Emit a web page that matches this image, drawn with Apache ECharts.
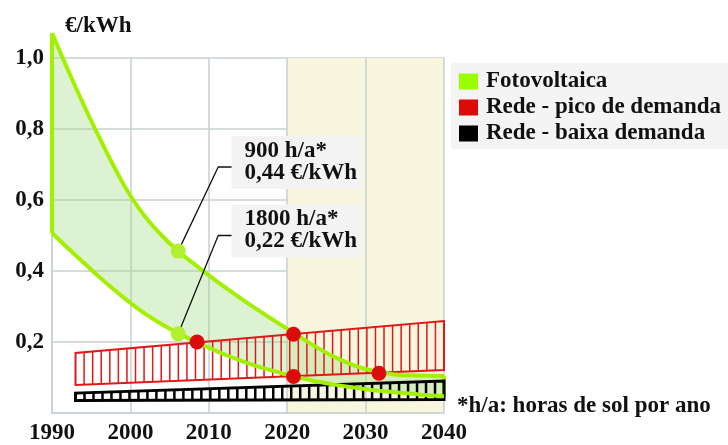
<!DOCTYPE html>
<html>
<head>
<meta charset="utf-8">
<script src="https://cdn.jsdelivr.net/npm/echarts@6/dist/echarts.min.js"></script>
<style>
  html, body { margin: 0; padding: 0; background: #fff; }
  #main { width: 728px; height: 445px; }
</style>
</head>
<body>
<div id="main"></div>
<script>
// custo da energia (€/kWh)
var years = [1990, 1992, 1994, 1996, 1998, 2000, 2002, 2004, 2006, 2008, 2010, 2012, 2014,
  2016, 2018, 2020, 2022, 2024, 2026, 2028, 2030, 2032, 2034, 2036, 2038, 2040];
// fotovoltaica 900 h/a (curva de cima)
var pv900 = [1.07, 0.968, 0.870, 0.778, 0.690, 0.612, 0.550, 0.500, 0.458, 0.422, 0.388, 0.355, 0.324,
  0.294, 0.265, 0.237, 0.209, 0.182, 0.158, 0.139, 0.124, 0.114, 0.108, 0.106, 0.105, 0.104];
// fotovoltaica 1800 h/a (curva de baixo)
var pv1800 = [0.507, 0.465, 0.424, 0.384, 0.346, 0.310, 0.278, 0.250, 0.226, 0.204, 0.184, 0.165, 0.148,
  0.133, 0.120, 0.108, 0.097, 0.088, 0.080, 0.073, 0.067, 0.062, 0.058, 0.054, 0.050, 0.047];

// faixas da rede (início e fim)
var bandYears = [1993, 2040];
var peakLow = [0.079, 0.121];
var peakHigh = [0.169, 0.259];
var offLow = [0.035, 0.038];
var offHigh = [0.056, 0.090];

// pontos marcados
var greenDots = [[2006.1, 0.456], [2006.1, 0.223]];
var redDots = [[2008.5, 0.2], [2020.8, 0.222], [2020.8, 0.103], [2031.7, 0.112]];
var leader900 = [[2006.1, 0.456], [2011.2, 0.693], [2012.9, 0.693]];
var leader1800 = [[2006.1, 0.223], [2011.2, 0.5], [2012.9, 0.5]];

var labels900 = ['900 h/a*', '0,44 €/kWh'];
var labels1800 = ['1800 h/a*', '0,22 €/kWh'];
var seriesNames = ['Fotovoltaica', 'Rede - pico de demanda', 'Rede - baixa demanda'];

var FONT = "'Liberation Serif', 'Times New Roman', serif";
var GREEN = '#a2f000';
var GRID = '#c9d1d1';

var chart = echarts.init(document.getElementById('main'));

function zip(xs, ys) {
  return xs.map(function (x, i) { return [x, ys[i]]; });
}

// faixa tracejada com linhas verticais
function hatchBand(color, width, step) {
  return function (params, api) {
    var a = api.coord([api.value(0), api.value(1)]);
    var b = api.coord([api.value(0), api.value(2)]);
    var c = api.coord([api.value(3), api.value(5)]);
    var d = api.coord([api.value(3), api.value(4)]);
    var children = [];
    var n = Math.round((d[0] - a[0]) / step);
    for (var i = 1; i < n; i++) {
      var t = i / n;
      children.push({
        type: 'line',
        shape: {
          x1: a[0] + t * (d[0] - a[0]), y1: a[1] + t * (d[1] - a[1]),
          x2: b[0] + t * (c[0] - b[0]), y2: b[1] + t * (c[1] - b[1])
        },
        style: { stroke: color, lineWidth: width }
      });
    }
    children.push({
      type: 'polygon',
      shape: { points: [a, b, c, d] },
      style: { fill: 'none', stroke: color, lineWidth: width + 0.5 }
    });
    return { type: 'group', children: children };
  };
}

// área entre as duas curvas: empilhada no eixo y (valor primeiro, ano depois)
var fillBase = pv1800.map(function (v, i) { return [v, years[i]]; });
var fillTop = pv900.map(function (v, i) { return [v - pv1800[i], years[i]]; });

var option = {
  animation: false,
  grid: { left: 52, right: 284, top: 58, bottom: 29 },
  legend: {
    orient: 'vertical',
    left: 451,
    top: 63,
    backgroundColor: '#f3f4f3',
    padding: [7, 10, 4, 8],
    itemWidth: 19,
    itemHeight: 16,
    itemGap: 3,
    selectedMode: false,
    textStyle: { fontFamily: FONT, fontWeight: 'bold', fontSize: 23, color: '#111', padding: [0, 0, 0, 3] },
    data: [
      { name: seriesNames[0], icon: 'rect', itemStyle: { color: '#99ff00' } },
      { name: seriesNames[1], icon: 'rect', itemStyle: { color: '#dd0a0a' } },
      { name: seriesNames[2], icon: 'rect', itemStyle: { color: '#000' } }
    ]
  },
  xAxis: {
    type: 'value',
    min: 1990,
    max: 2040,
    interval: 10,
    axisLine: { lineStyle: { color: GRID, width: 1.5 } },
    axisTick: { show: false },
    axisLabel: {
      color: '#111', fontFamily: FONT, fontWeight: 'bold', fontSize: 23, margin: 9,
      formatter: function (v) { return String(v); }
    },
    splitLine: { lineStyle: { color: GRID, width: 1.5 } },
    splitArea: {
      show: true,
      areaStyle: { color: ['rgba(255,255,255,0)', 'rgba(255,255,255,0)', 'rgba(255,255,255,0)', '#f8f6df', '#f8f6df'] }
    }
  },
  yAxis: {
    type: 'value',
    min: 0,
    max: 1,
    interval: 0.2,
    axisLine: { show: true, lineStyle: { color: GRID, width: 1.5 } },
    axisTick: { show: false },
    axisLabel: {
      color: '#111', fontFamily: FONT, fontWeight: 'bold', fontSize: 23, margin: 8,
      formatter: function (v) { return v === 0 ? '' : v.toFixed(1).replace('.', ','); }
    },
    splitLine: { lineStyle: { color: GRID, width: 1.5 } }
  },
  series: [
    {
      name: 'base',
      type: 'line',
      stack: 'pv',
      smooth: true,
      clip: false,
      symbol: 'none',
      encode: { x: 1, y: 0 },
      lineStyle: { opacity: 0 },
      data: fillBase,
      z: 2
    },
    {
      name: seriesNames[0],
      type: 'line',
      stack: 'pv',
      smooth: true,
      clip: false,
      symbol: 'none',
      encode: { x: 1, y: 0 },
      lineStyle: { opacity: 0 },
      areaStyle: { color: 'rgba(150,215,120,0.33)', opacity: 1 },
      data: fillTop,
      z: 2
    },
    {
      name: seriesNames[1],
      type: 'custom',
      renderItem: hatchBand('#e01818', 1.5, 8.6),
      encode: { x: [0, 3], y: [1, 2, 4, 5] },
      data: [[bandYears[0], peakLow[0], peakHigh[0], bandYears[1], peakLow[1], peakHigh[1]]],
      z: 3
    },
    {
      name: seriesNames[2],
      type: 'custom',
      renderItem: hatchBand('#000', 2.5, 9),
      encode: { x: [0, 3], y: [1, 2, 4, 5] },
      data: [[bandYears[0], offLow[0], offHigh[0], bandYears[1], offLow[1], offHigh[1]]],
      z: 3
    },
    {
      name: 'pv900',
      type: 'line',
      smooth: true,
      clip: false,
      symbol: 'none',
      lineStyle: { color: GREEN, width: 4 },
      data: zip(years, pv900),
      z: 4
    },
    {
      name: 'pv1800',
      type: 'line',
      smooth: true,
      clip: false,
      symbol: 'none',
      lineStyle: { color: GREEN, width: 4 },
      data: zip(years, pv1800),
      z: 4
    },
    {
      name: 'edgeLeft',
      type: 'line',
      clip: false,
      symbol: 'none',
      lineStyle: { color: GREEN, width: 4 },
      data: [[years[0], pv900[0]], [years[0], pv1800[0]]],
      z: 4
    },
    {
      name: 'edgeRight',
      type: 'line',
      clip: false,
      symbol: 'none',
      lineStyle: { color: GREEN, width: 4 },
      data: [[years[years.length - 1], pv900[pv900.length - 1]], [years[years.length - 1], pv1800[pv1800.length - 1]]],
      z: 2
    },
    {
      name: 'leader900',
      type: 'line',
      symbol: 'none',
      lineStyle: { color: '#111', width: 1.3 },
      data: leader900,
      z: 4
    },
    {
      name: 'leader1800',
      type: 'line',
      symbol: 'none',
      lineStyle: { color: '#111', width: 1.3 },
      data: leader1800,
      z: 4
    },
    {
      name: 'greenDots',
      type: 'scatter',
      symbolSize: 15,
      itemStyle: { color: '#b0f030', opacity: 1 },
      data: greenDots,
      z: 5
    },
    {
      name: 'redDots',
      type: 'scatter',
      symbolSize: 15,
      itemStyle: { color: '#dc0c0c', opacity: 1 },
      data: redDots,
      z: 5
    }
  ]
};
chart.setOption(option);

// caixas de texto ligadas às linhas de chamada
function noteBox(end, lines) {
  var p = chart.convertToPixel({ gridIndex: 0 }, end);
  return {
    type: 'group',
    left: p[0],
    top: p[1] - 31,
    z: 20,
    children: [
      { type: 'rect', shape: { x: 0, y: 0, width: 131, height: 53 }, style: { fill: '#f2f3f2' } },
      {
        type: 'text', x: 13, y: 4,
        style: { text: lines.join('\n'), font: 'bold 23px ' + FONT, fill: '#111', lineHeight: 22 }
      }
    ]
  };
}

chart.setOption({
  graphic: [
    { type: 'text', left: 65, top: 15, style: { text: '€/kWh', font: 'bold 23px ' + FONT, fill: '#111' } },
    { type: 'text', left: 457, top: 395, style: { text: '*h/a: horas de sol por ano', font: 'bold 23px ' + FONT, fill: '#111' } },
    noteBox(leader900[2], labels900),
    noteBox(leader1800[2], labels1800)
  ]
});
</script>
</body>
</html>
